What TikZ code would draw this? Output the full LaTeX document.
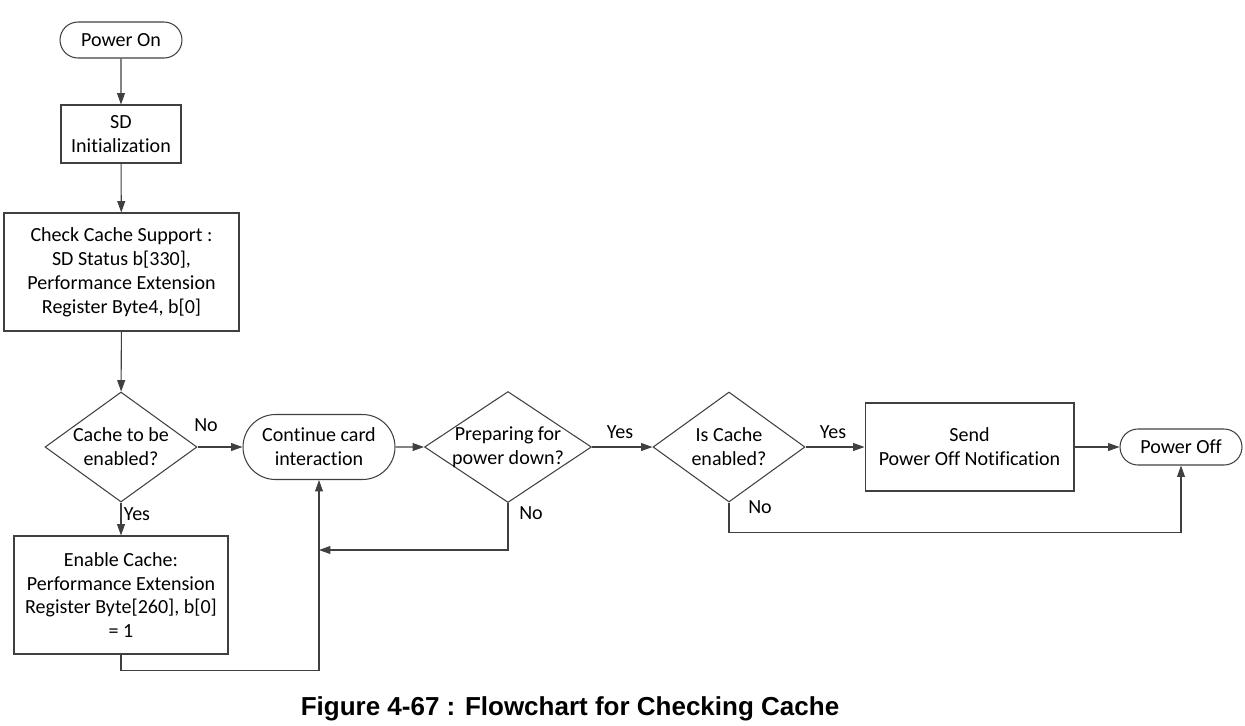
\documentclass[tikz,border=0pt]{standalone}
\usepackage{fontspec}
\setmainfont{Carlito}[Ligatures=NoCommon]
\newfontfamily\capfont{Liberation Sans}
\usepackage{tikz}
\usetikzlibrary{shapes.geometric,shapes.misc,arrows.meta,calc}
\definecolor{flowgray}{RGB}{64,64,64}

\begin{document}
\begin{tikzpicture}[
        x=0.02cm, y=-0.02cm,
        every node/.style={font=\fontsize{11.4}{13.6}\selectfont, text=black},
        term/.style={rounded rectangle, draw=flowgray, line width=0.6pt, align=center, inner sep=0pt},
        proc/.style={rectangle, draw=flowgray, line width=0.6pt, align=center, inner sep=0pt},
        dec/.style={diamond, draw=flowgray, line width=0.6pt, align=center, inner sep=-2.5pt},
        flow/.style={draw=flowgray, line width=0.6pt, -{Triangle[length=6.5pt,width=4.5pt]}},
        lbl/.style={inner sep=0pt},
    ]
        \useasboundingbox (0,0) rectangle (1245,725);

        % left column
        \node[term, minimum width=2.44cm, minimum height=0.72cm] (pon) at (121,40) {Power On};
        \node[proc, minimum width=2.4cm, minimum height=1.16cm] (sdinit) at (121,134) {SD\\Initialization};
        \node[proc, minimum width=4.7cm, minimum height=2.36cm] (chksup) at (121.5,272) {Check Cache Support :\\SD Status b[330],\\Performance Extension\\Register Byte4, b[0]};
        \node[dec, aspect=1.38, minimum width=3.04cm, minimum height=2.2cm] (cachedec) at (121,447) {Cache to be\\enabled?};
        \node[proc, minimum width=4.28cm, minimum height=2.36cm] (enable) at (121,595) {Enable Cache:\\Performance Extension\\Register Byte[260], b[0]\\= 1};

        % main row
        \node[term, minimum width=3.04cm, minimum height=1.3cm] (contint) at (319,447) {Continue card\\interaction};
        \node[dec, aspect=1.5, minimum width=3.34cm, minimum height=2.22cm] (prepdec) at (508,447) {Preparing for\\power down?};
        \node[dec, aspect=1.38, minimum width=3.04cm, minimum height=2.2cm] (isdec) at (729,447) {Is Cache\\enabled?};
        \node[proc, minimum width=4.18cm, minimum height=1.76cm] (sendoff) at (969.5,447) {Send\\Power Off Notification};
        \node[term, minimum width=2.44cm, minimum height=0.72cm] (poff) at (1181,447) {Power Off};

        \coordinate (loopin) at (319,550);

        % connectors
        \draw[flow] (pon) -- (sdinit);
        \draw[flow] (sdinit) -- (chksup);
        \draw[flow] (chksup) -- (cachedec);
        \draw[flow] (cachedec) -- (enable);
        \draw[flow] (cachedec) -- (contint);
        \draw[flow] (contint) -- (prepdec);
        \draw[flow] (prepdec) -- (isdec);
        \draw[flow] (isdec) -- (sendoff);
        \draw[flow] (sendoff) -- (poff);
        \draw[flow] (enable.south) -- ++(0,16) -| (contint.south);
        \draw[flow] (prepdec.south) |- (loopin);
        \draw[flow] (isdec.south) -- ++(0,30) -| (poff.south);

        % labels
        \node[lbl] (lno1) at (206,425) {No};
        \node[lbl] (lyes1) at (137,514) {Yes};
        \node[lbl] (lyes2) at (620,432) {Yes};
        \node[lbl] (lno2) at (531,513) {No};
        \node[lbl] (lyes3) at (833,432) {Yes};
        \node[lbl] (lno3) at (760,507) {No};

        \node[lbl, font=\capfont\bfseries\fontsize{14.8}{16}\selectfont] (caption) at (570,709) {Figure 4-67 : Flowchart for Checking Cache};
    \end{tikzpicture}
\end{document}
